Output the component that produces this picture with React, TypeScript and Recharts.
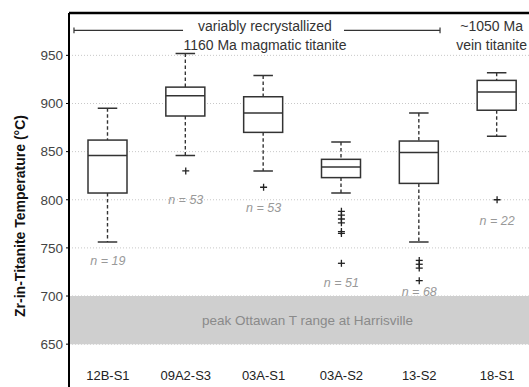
import React from 'react';
import {
  ComposedChart, Bar, Scatter, XAxis, YAxis, CartesianGrid,
  ReferenceArea, ReferenceLine, ReferenceDot,
} from 'recharts';

// ---- data ----
const categories = ['12B-S1', '09A2-S3', '03A-S1', '03A-S2', '13-S2', '18-S1'];
const whiskerLow = [756, 846, 830, 807, 756, 866];
const q1 = [807, 887, 870, 823, 817, 893];
const medians = [846, 908, 890, 834, 849, 912];
const q3 = [862, 917, 907, 842, 861, 924];
const whiskerHigh = [895, 952, 929, 860, 890, 932];
const sampleN = [19, 53, 53, 51, 68, 22];
const nLabelAt = [737, 800, 792, 714, 705, 778];
const outlierCats = ['09A2-S3', '03A-S1', '03A-S2', '03A-S2', '03A-S2', '03A-S2', '03A-S2', '03A-S2', '03A-S2', '13-S2', '13-S2', '13-S2', '13-S2', '18-S1'];
const outlierValues = [830, 813, 788, 784, 780, 776, 767, 765, 734, 737, 733, 729, 716, 800];
const yTicks = [650, 700, 750, 800, 850, 900, 950];
const yDomain: [number, number] = [592, 994];
const bandRange = [650, 700];
const posDomain: [number, number] = [0, 6];

const boxes = categories.map((cat, i) => ({
  cat,
  pos: i + 0.5,
  range: [whiskerLow[i], whiskerHigh[i]],
  lo: whiskerLow[i], q1: q1[i], med: medians[i], q3: q3[i], hi: whiskerHigh[i],
}));
const outliers = outlierCats.map((cat, i) => ({ cat, v: outlierValues[i] }));

const FONT = '"Liberation Sans", Arial, Helvetica, sans-serif';
const INK = '#333';

const BoxShape = (props: any) => {
  const { x, y, width, height, payload } = props;
  if (payload == null || height == null) return null;
  const { lo, q1: a, med, q3: b, hi } = payload;
  const k = height / (hi - lo);
  const py = (v: number) => y + (hi - v) * k;
  const cx = x + width / 2;
  const cap = width / 2;
  return (
    <g>
      <line x1={cx} x2={cx} y1={py(hi)} y2={py(b)} stroke={INK} strokeWidth={1.4} strokeDasharray="3.5 2.5" />
      <line x1={cx} x2={cx} y1={py(a)} y2={py(lo)} stroke={INK} strokeWidth={1.4} strokeDasharray="3.5 2.5" />
      <line x1={cx - cap / 2} x2={cx + cap / 2} y1={py(hi)} y2={py(hi)} stroke={INK} strokeWidth={1.5} />
      <line x1={cx - cap / 2} x2={cx + cap / 2} y1={py(lo)} y2={py(lo)} stroke={INK} strokeWidth={1.5} />
      <rect x={x} y={py(b)} width={width} height={py(a) - py(b)} fill="#fff" stroke={INK} strokeWidth={1.5} />
      <line x1={x} x2={x + width} y1={py(med)} y2={py(med)} stroke={INK} strokeWidth={1.5} />
    </g>
  );
};

const PlusShape = (props: any) => {
  const { cx, cy } = props;
  if (cx == null || cy == null) return null;
  const s = 3.5;
  return (
    <g>
      <line x1={cx - s} x2={cx + s} y1={cy} y2={cy} stroke="#222" strokeWidth={1.3} />
      <line x1={cx} x2={cx} y1={cy - s} y2={cy + s} stroke="#222" strokeWidth={1.3} />
    </g>
  );
};

const XTick = (props: any) => {
  const { x, y, payload } = props;
  return (
    <text x={x} y={y - 20.5} textAnchor="middle" fontSize={13} fill="#222" fontFamily={FONT}>
      {payload.value}
    </text>
  );
};

const textLabel = (value: string, opts: { size?: number; fill?: string; italic?: boolean; dx?: number } = {}) =>
  (p: any) => {
    const vb = p.viewBox || {};
    const cx = (vb.x ?? 0) + (vb.width ?? 0) / 2 + (opts.dx ?? 0);
    const cy = (vb.y ?? 0) + (vb.height ?? 0) / 2;
    return (
      <text x={cx} y={cy} dy="0.36em" textAnchor="middle" fontSize={opts.size ?? 12.5}
        fill={opts.fill ?? INK} fontStyle={opts.italic ? 'italic' : 'normal'} fontFamily={FONT}>
        {value}
      </text>
    );
  };

const YLabel = () => {
  const cx = 20;
  const cy = 216;
  return (
    <text x={cx} y={cy} dy="0.36em" transform={`rotate(-90 ${cx} ${cy})`} textAnchor="middle"
      fontSize={14} fontWeight="bold" fill="#111" fontFamily={FONT}>
      Zr-in-Titanite Temperature (°C)
    </text>
  );
};

const topNotes = [
  { x: 2.518, y: 980.8, text: 'variably recrystallized' },
  { x: 2.518, y: 960.6, text: '1160 Ma magmatic titanite' },
  { x: 5.43, y: 980.8, text: '~1050 Ma' },
  { x: 5.43, y: 960.6, text: 'vein titanite' },
];
const spanLines = [
  { x1: 0.064, x2: 1.465, tickAt: 0.064 },
  { x1: 3.533, x2: 4.767, tickAt: 4.767 },
];
const spanY = 976;

export default function App() {
  return (
    <div style={{ position: 'absolute', left: 0, top: 0, width: 529, height: 387, overflow: 'hidden', background: '#fff' }}>
      <ComposedChart width={560} height={420} data={boxes} margin={{ top: 13, right: 24, bottom: 0, left: 0 }}>
        <CartesianGrid horizontal vertical={false} stroke="#c8c8c8" strokeDasharray="1 2" />
        <XAxis dataKey="cat" type="category" allowDuplicatedCategory={false} height={20}
          tickLine={false} axisLine={false} tickSize={0} tickMargin={0} tick={<XTick />} interval={0} />
        <XAxis xAxisId="num" dataKey="pos" type="number" domain={posDomain} ticks={posDomain}
          allowDataOverflow height={0} tick={false} tickLine={false} axisLine={false} />
        <YAxis type="number" domain={yDomain} ticks={yTicks} allowDataOverflow width={69}
          tickSize={3} tickMargin={3} axisLine={{ stroke: '#000', strokeWidth: 2 }}
          tickLine={{ stroke: '#000' }} interval={0}
          tick={{ fontSize: 13.5, fill: '#444', fontFamily: FONT }} label={<YLabel />} />
        <ReferenceArea y1={bandRange[0]} y2={bandRange[1]} fill="#cfcfcf" fillOpacity={1} stroke="none"
          ifOverflow="visible" label={textLabel('peak Ottawan T range at Harrisville', { size: 13.5, fill: '#8a8a8a', dx: 5 })} />
        <ReferenceLine y={yDomain[1]} stroke="#000" strokeWidth={2.5} ifOverflow="visible" />
        {spanLines.map((s, i) => (
          <ReferenceLine key={'s' + i} xAxisId="num" segment={[{ x: s.x1, y: spanY }, { x: s.x2, y: spanY }]}
            stroke={INK} strokeWidth={1.2} ifOverflow="visible" />
        ))}
        {spanLines.map((s, i) => (
          <ReferenceLine key={'t' + i} xAxisId="num" segment={[{ x: s.tickAt, y: spanY - 3 }, { x: s.tickAt, y: spanY + 3 }]}
            stroke={INK} strokeWidth={1.2} ifOverflow="visible" />
        ))}
        {topNotes.map((n, i) => (
          <ReferenceDot key={'n' + i} xAxisId="num" x={n.x} y={n.y} r={1} fill="none" stroke="none"
            ifOverflow="visible" label={textLabel(n.text, { size: 14 })} />
        ))}
        <Bar dataKey="range" barSize={39} shape={<BoxShape />} isAnimationActive={false} />
        <Scatter data={outliers} dataKey="v" shape={<PlusShape />} isAnimationActive={false} />
        {categories.map((c, i) => (
          <ReferenceDot key={'c' + i} x={c} y={nLabelAt[i]} r={1} fill="none" stroke="none"
            ifOverflow="visible" label={textLabel(`n = ${sampleN[i]}`, { size: 12.5, fill: '#999', italic: true })} />
        ))}
      </ComposedChart>
    </div>
  );
}
